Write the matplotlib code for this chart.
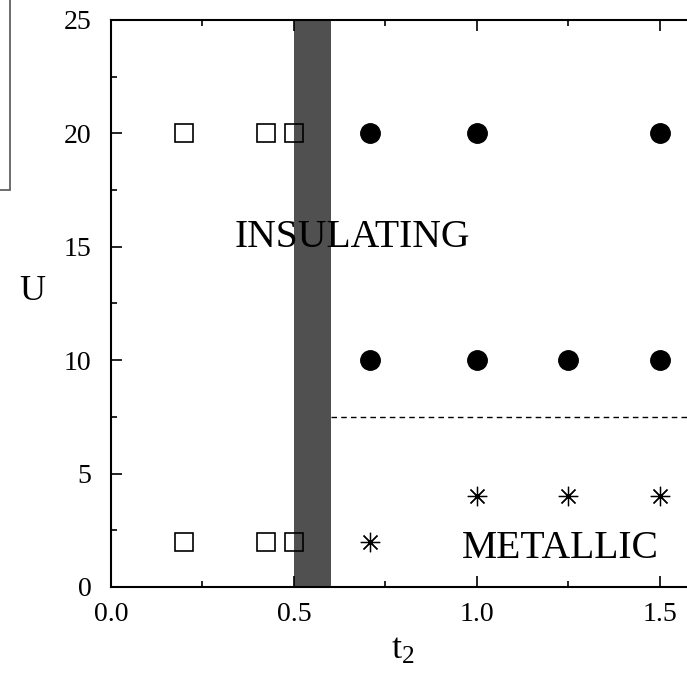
import matplotlib.pyplot as plt
from matplotlib.patches import Rectangle
from matplotlib.ticker import MultipleLocator

# phase diagram points (t2, U)
insul_t2 = [0.2, 0.425, 0.5, 0.2, 0.425, 0.5]
insul_u = [20, 20, 20, 2, 2, 2]
metal_t2 = [0.707, 1.0, 1.5, 0.707, 1.0, 1.25, 1.5]
metal_u = [20, 20, 20, 10, 10, 10, 10]
star_t2 = [0.707, 1.0, 1.25, 1.5]
star_u = [2, 4, 4, 4]

band_lo, band_hi = 0.5, 0.6
dash_u = 7.5

plt.rcParams['font.family'] = ['Liberation Serif', 'DejaVu Serif']
plt.rcParams['mathtext.fontset'] = 'custom'
plt.rcParams['mathtext.rm'] = 'Liberation Serif'
plt.rcParams['mathtext.it'] = 'Liberation Serif:italic'

fig = plt.figure(figsize=(6.87, 6.75), dpi=100)
ax = fig.add_axes([0.1616, 0.1304, 0.852, 0.84])

ax.axvspan(band_lo, band_hi, color='#505050', lw=0, zorder=1)
ax.plot([band_hi, 1.6], [dash_u, dash_u], ls=(0, (4, 3)), color='black', lw=1)

ax.plot(insul_t2, insul_u, 's', ms=12.5, mfc='none', mec='black', mew=1.2, zorder=3)
ax.plot(metal_t2, metal_u, 'o', ms=14, color='black', zorder=3)
ax.plot(star_t2, star_u, marker=(8, 2, 0), ls='none', ms=14, color='black', mew=0.9, zorder=3)

ax.text(0.66, 15.4, 'INSULATING', fontsize=28.5, ha='center', va='center')
ax.text(1.227, 1.7, 'METALLIC', fontsize=28.5, ha='center', va='center')

ax.set_xlim(0, 1.6)
ax.set_ylim(0, 25)
ax.xaxis.set_major_locator(MultipleLocator(0.5))
ax.xaxis.set_minor_locator(MultipleLocator(0.25))
ax.yaxis.set_major_locator(MultipleLocator(5))
ax.yaxis.set_minor_locator(MultipleLocator(2.5))
ax.xaxis.set_major_formatter(plt.FormatStrFormatter('%.1f'))
ax.tick_params(which='both', direction='in', top=True, right=False, labelsize=20, width=1.2)
ax.tick_params(which='major', length=8)
ax.tick_params(which='minor', length=4)
ax.tick_params(axis='x', pad=11)
ax.tick_params(axis='y', pad=14)
for s in ax.spines.values():
    s.set_linewidth(1.5)

ax.set_xlabel(r'$\mathrm{t}_2$', fontsize=26, va='center')
ax.xaxis.set_label_coords((403 - 111) / 585.6, -(650 - 587) / 567)
ax.set_ylabel('U', fontsize=26, rotation=0, va='center', ha='center')
ax.yaxis.set_label_coords(-(111 - 32) / 585.6, (587 - 292) / 567)

# legend box cut off at the top left
fig.patches.append(Rectangle((-0.1, 1 - 190 / 675), 0.1 + 10 / 687, 0.5, transform=fig.transFigure,
                             fill=False, ec='#555555', lw=1.2))

fig.savefig('out.png', dpi=100)
